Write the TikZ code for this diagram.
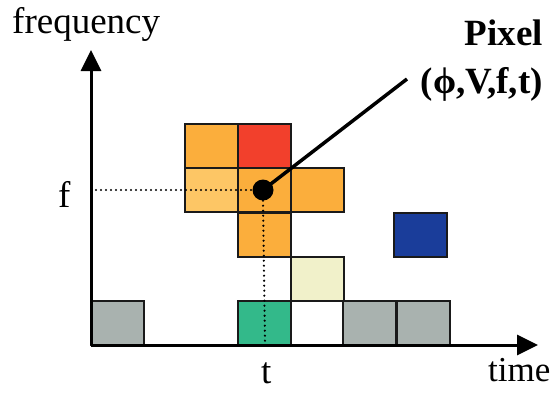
\documentclass[tikz,border=0pt]{standalone}
\usepackage{fontspec}
\setmainfont{Liberation Serif}
\usetikzlibrary{arrows.meta}
\definecolor{corange}{HTML}{FBAE3C}
\definecolor{cred}{HTML}{F2402C}
\definecolor{clorange}{HTML}{FDC665}
\definecolor{cpale}{HTML}{F1F1CA}
\definecolor{cgreen}{HTML}{33B98A}
\definecolor{cgrey}{HTML}{A9B2AF}
\definecolor{cblue}{HTML}{1A3D9A}
\definecolor{cedge}{HTML}{1A1A1A}
\tikzset{
  cell/.style={draw=cedge, line width=2pt, minimum width=53pt, minimum height=44pt, inner sep=0pt, outer sep=0pt},
  axis/.style={line width=3pt, -{Triangle[length=21pt,width=20pt]}},
  dots/.style={line width=2.4pt, line cap=round, dash pattern=on 0pt off 5pt},
  lbl/.style={inner sep=0pt, font=\fontsize{37}{40}\selectfont},
  blbl/.style={inner sep=0pt, font=\fontsize{37}{40}\selectfont\bfseries}
}
\begin{document}
\begin{tikzpicture}[x=1pt,y=-1pt]
\useasboundingbox (0,0) rectangle (560,392);
% cells
\node[cell, fill=corange]  (c11) at (211,146) {};
\node[cell, fill=cred]     (c12) at (264.5,146) {};
\node[cell, fill=clorange] (c21) at (211,190) {};
\node[cell, fill=corange]  (c22) at (264.5,190) {};
\node[cell, fill=corange]  (c23) at (317,190) {};
\node[cell, fill=corange]  (c32) at (264.5,234.5) {};
\node[cell, fill=cpale]    (c43) at (317,279) {};
\node[cell, fill=cgreen]   (b2) at (264.5,323) {};
\node[cell, fill=white]    (b3) at (317,323) {};
\node[cell, fill=cgrey]    (b4) at (369.5,323) {};
\node[cell, fill=cgrey]    (b5) at (423,323) {};
\node[cell, fill=cgrey]    (b1) at (117,323) {};
\node[cell, fill=cblue]    (blue) at (420.5,235) {};
% axes
\coordinate (O) at (91,345);
\coordinate (ytip) at (91,50);
\coordinate (xtip) at (538,345);
\draw[axis] (O) -- (ytip);
\draw[axis] (O) -- (xtip);
% pixel dot and guides
\node[circle, fill=black, minimum size=21pt, inner sep=0pt] (p) at (263,190) {};
\coordinate (fy) at (96,190);
\coordinate (tx) at (265,343);
\draw[dots] (fy) -- (p.west);
\draw[dots] (p.south) -- (tx);
\coordinate (q) at (407,79);
\draw[line width=3.5pt] (p.center) -- (q);
% labels
\node[lbl, anchor=base west] (freq) at (12,33) {frequency};
\node[lbl, anchor=base west] (flbl) at (58,207) {f};
\node[lbl, anchor=base west] (tlbl) at (261,383) {t};
\node[lbl, anchor=base west, font=\fontsize{35}{38}\selectfont] (time) at (488,381) {time};
\node[blbl, anchor=base east] (pix) at (543,45) {Pixel};
\node[blbl, anchor=base east] (tup) at (543,93) {(ϕ,V,f,t)};
\end{tikzpicture}
\end{document}
